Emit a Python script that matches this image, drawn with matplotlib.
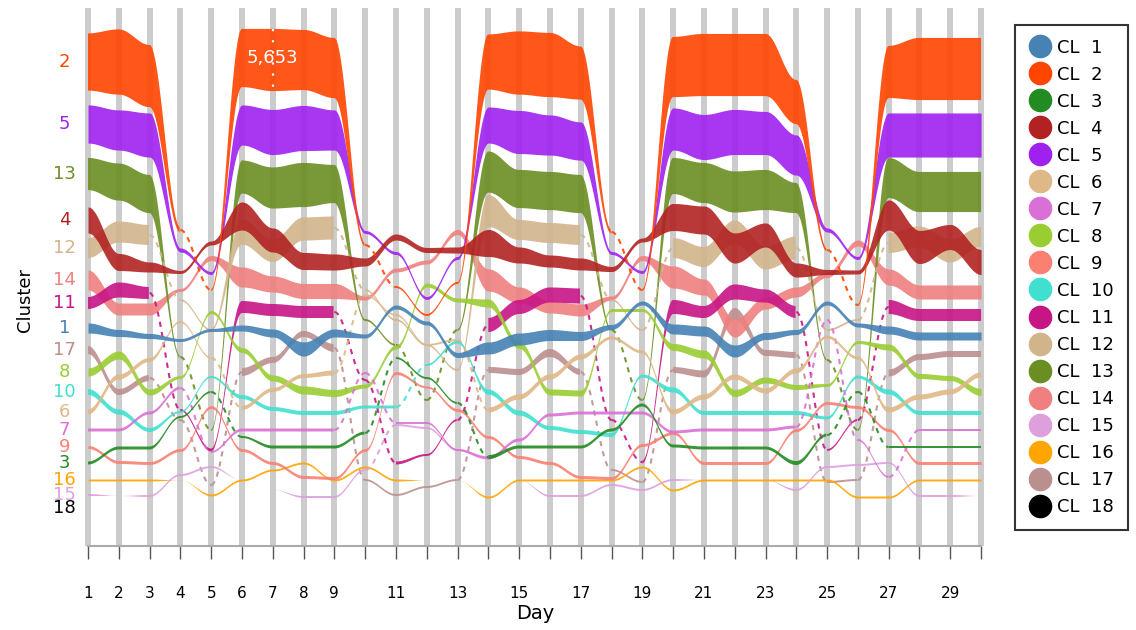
import numpy as np
import matplotlib.pyplot as plt
from matplotlib.lines import Line2D

DAYS = list(range(1, 31))
TICK_LABELS = ["1", "2", "3", "4", "5", "6", "7", "8", "9", "", "11", "", "13", "", "15",
               "", "17", "", "19", "", "21", "", "23", "", "25", "", "27", "", "29", ""]

COLORS = {
    1: "#4682B4", 2: "#FF4500", 3: "#228B22", 4: "#B22222", 5: "#A020F0",
    6: "#DEB887", 7: "#DA70D6", 8: "#9ACD32", 9: "#FA8072", 10: "#40E0D0",
    11: "#C71585", 12: "#D2B48C", 13: "#6B8E23", 14: "#F08080", 15: "#DDA0DD",
    16: "#FFA500", 17: "#BC8F8F", 18: "#000000",
}

# row position of each cluster per day (layout units, top = small)
POS = {
    2: [62, 62, 76, 230, 290, 58, 60, 60, 68, 245, 287, 315, 283, 62, 63, 65, 73, 232, 290, 67,
        65, 65, 65, 102, 250, 305, 72, 69, 69, 69],
    5: [124, 130, 135, 250, 273, 125, 132, 128, 130, 232, 253, 298, 258, 125, 132, 135, 141, 253, 272, 129,
        137, 132, 133, 155, 230, 258, 135, 135, 135, 135],
    13: [174, 182, 194, 357, 430, 177, 188, 185, 184, 320, 345, 400, 330, 172, 189, 191, 194, 330, 400, 176,
         183, 192, 190, 198, 360, 430, 178, 192, 192, 192],
    4: [220, 262, 267, 272, 243, 216, 240, 261, 262, 262, 237, 250, 250, 243, 255, 261, 264, 269, 240, 217,
        220, 248, 235, 270, 272, 272, 215, 247, 237, 262],
    12: [248, 232, 235, 300, 330, 232, 251, 229, 228, 290, 320, 345, 370, 211, 230, 233, 235, 300, 330, 248,
         257, 232, 258, 248, 330, 320, 243, 237, 251, 237],
    14: [280, 309, 309, 290, 258, 277, 284, 291, 291, 298, 270, 262, 232, 280, 295, 307, 310, 298, 258, 277,
         287, 328, 303, 292, 275, 243, 277, 292, 292, 292],
    11: [303, 290, 293, 410, 450, 307, 310, 312, 312, 380, 463, 455, 420, 325, 307, 295, 296, 420, 462, 307,
         312, 292, 296, 312, 450, 420, 307, 315, 315, 315],
    1: [328, 333, 336, 340, 330, 328, 333, 349, 333, 336, 307, 323, 355, 348, 339, 335, 336, 327, 303, 329,
        331, 351, 336, 332, 303, 325, 330, 336, 336, 336],
    17: [350, 392, 378, 420, 485, 372, 360, 334, 348, 480, 495, 487, 480, 370, 372, 353, 372, 470, 482, 370,
         374, 314, 353, 355, 482, 480, 373, 357, 354, 354],
    8: [372, 355, 392, 377, 312, 350, 378, 390, 393, 386, 347, 285, 300, 303, 345, 392, 393, 310, 310, 347,
        354, 393, 380, 387, 385, 342, 347, 376, 378, 392],
    10: [392, 412, 430, 412, 377, 397, 409, 413, 413, 407, 407, 365, 342, 392, 413, 428, 432, 435, 376, 390,
         413, 413, 413, 413, 418, 377, 392, 413, 413, 413],
    6: [412, 377, 360, 322, 358, 408, 390, 376, 373, 295, 315, 345, 340, 410, 397, 377, 357, 338, 352, 412,
        397, 377, 391, 371, 337, 358, 410, 397, 392, 375],
    7: [430, 430, 413, 388, 452, 430, 430, 430, 430, 373, 423, 423, 450, 458, 440, 415, 413, 413, 413, 432,
        430, 430, 430, 427, 320, 440, 477, 430, 430, 430],
    9: [447, 462, 463, 450, 407, 450, 463, 477, 478, 450, 373, 387, 410, 437, 457, 463, 477, 478, 445, 433,
        463, 463, 463, 430, 403, 407, 430, 463, 463, 463],
    3: [463, 448, 448, 417, 392, 437, 447, 447, 447, 433, 358, 378, 403, 457, 447, 447, 447, 430, 405, 446,
        448, 448, 448, 463, 435, 392, 447, 447, 447, 447],
    16: [480, 480, 480, 480, 495, 480, 470, 463, 480, 467, 480, 480, 480, 497, 480, 480, 480, 480, 467, 490,
         480, 480, 480, 480, 480, 497, 497, 480, 480, 480],
    15: [495, 496, 496, 475, 467, 480, 490, 497, 497, 470, 425, 428, 450, 460, 480, 496, 496, 485, 490, 480,
         480, 480, 480, 490, 467, 465, 463, 496, 496, 496],
    18: [508, 508, 508, 508, 508, 508, 508, 508, 508, 508, 508, 508, 508, 508, 508, 508, 508, 508, 508, 508,
         508, 508, 508, 508, 508, 508, 508, 508, 508, 508],
}

# members per cluster per day
MEMBERS = {
    2: [5200, 5930, 5650, 460, 180, 5290, 5653, 5470, 5470, 270, 180, 180, 180, 5020, 5750, 5840, 4830, 360, 180, 5470,
        5650, 5650, 5650, 4010, 270, 180, 4740, 5650, 5650, 5650],
    5: [3470, 3650, 4010, 360, 270, 3650, 4100, 4100, 3650, 270, 270, 270, 270, 3280, 3920, 3650, 3470, 270, 270, 3830,
        4100, 4100, 3920, 3650, 360, 270, 4010, 4010, 4010, 4010],
    13: [2920, 3370, 3470, 180, 180, 3010, 3740, 4010, 3470, 180, 180, 180, 180, 3740, 3470, 3470, 3470, 180, 180, 3280,
         3650, 3740, 3650, 2740, 180, 180, 3650, 3650, 3650, 3650],
    4: [2370, 1550, 910, 270, 360, 2550, 2190, 1550, 1460, 730, 550, 460, 550, 2460, 1460, 1090, 1090, 460, 360, 2460,
        2550, 2740, 2190, 1280, 460, 360, 2740, 3010, 2280, 2280],
    12: [1820, 1920, 1820, 180, 180, 2280, 2010, 2100, 2100, 180, 180, 180, 180, 2920, 1820, 1820, 1820, 180, 180, 1820,
         1820, 2100, 2100, 2100, 180, 180, 1820, 1920, 2100, 1820],
    14: [1820, 1090, 1090, 270, 460, 1820, 1460, 1370, 1370, 360, 360, 360, 460, 2010, 1460, 1090, 1090, 360, 460, 2010,
         1460, 1640, 1090, 910, 460, 550, 1460, 1280, 1280, 1280],
    11: [1090, 1370, 1090, 180, 270, 1090, 1090, 1090, 1090, 180, 270, 180, 180, 1280, 1280, 1370, 1370, 180, 270, 1280,
         1090, 1370, 1190, 1090, 180, 180, 1280, 1090, 1090, 1090],
    1: [910, 640, 460, 270, 270, 550, 730, 1280, 730, 360, 360, 360, 460, 1090, 1090, 1000, 820, 460, 360, 910,
        910, 1090, 640, 460, 360, 360, 730, 730, 730, 730],
    17: [730, 550, 550, 180, 180, 730, 550, 550, 730, 180, 180, 180, 180, 550, 550, 730, 550, 180, 180, 550,
         640, 1090, 550, 550, 180, 180, 640, 550, 550, 550],
    8: [730, 730, 550, 270, 270, 460, 550, 730, 640, 360, 360, 360, 360, 730, 640, 550, 550, 270, 270, 640,
        730, 640, 550, 460, 270, 270, 550, 460, 460, 640],
    10: [550, 460, 360, 180, 180, 360, 360, 360, 360, 270, 270, 180, 270, 460, 460, 360, 360, 360, 270, 460,
         360, 360, 360, 360, 270, 270, 460, 360, 360, 360],
    6: [460, 460, 360, 180, 180, 360, 360, 360, 460, 180, 180, 180, 180, 460, 460, 460, 460, 270, 270, 460,
        460, 460, 460, 460, 270, 270, 460, 460, 460, 460],
    7: [270, 270, 270, 270, 180, 270, 270, 270, 270, 180, 180, 180, 180, 270, 270, 270, 270, 270, 270, 270,
        270, 270, 270, 270, 180, 180, 180, 270, 270, 270],
    9: [270, 270, 270, 270, 270, 270, 270, 270, 270, 270, 270, 180, 270, 270, 270, 270, 270, 270, 270, 270,
        270, 270, 270, 270, 270, 270, 270, 270, 270, 270],
    3: [270, 270, 270, 180, 180, 180, 270, 270, 270, 270, 180, 180, 180, 360, 270, 270, 270, 270, 270, 270,
        270, 270, 270, 360, 270, 180, 270, 270, 270, 270],
    16: [180, 180, 180, 0, 180, 180, 180, 180, 180, 180, 180, 0, 0, 180, 180, 180, 180, 180, 180, 180,
         180, 180, 180, 180, 180, 180, 180, 180, 180, 180],
    15: [180, 0, 180, 180, 180, 0, 0, 180, 180, 180, 180, 180, 180, 0, 0, 180, 180, 180, 180, 180,
         0, 0, 0, 180, 180, 180, 180, 180, 180, 0],
    18: [0, 0, 0, 0, 0, 0, 0, 0, 0, 0, 0, 0, 0, 0, 0, 0, 0, 0, 0, 0,
         0, 0, 0, 0, 0, 0, 0, 0, 0, 0],
}

UNITS_PER_MEMBER = 0.011
HIGHLIGHT_CLUSTER, HIGHLIGHT_DAY = 2, 7
NARROW = ["Liberation Sans Narrow", "DejaVu Sans"]
STEPS = 40


def ease(days, values, steps=STEPS):
    # cosine easing between consecutive days
    xs, ys = [], []
    for i in range(len(days) - 1):
        t = np.linspace(0, 1, steps, endpoint=False)
        e = (1 - np.cos(np.pi * t)) / 2
        xs.append(days[i] + t * (days[i + 1] - days[i]))
        ys.append(values[i] + e * (values[i + 1] - values[i]))
    xs.append([days[-1]])
    ys.append([values[-1]])
    return np.concatenate(xs), np.concatenate(ys)


def draw_cluster(ax, k):
    pos = np.array(POS[k], float)
    mem = np.array(MEMBERS[k], float)
    x, c = ease(DAYS, pos)
    _, m = ease(DAYS, mem)
    half = m * UNITS_PER_MEMBER / 2

    # small clusters that jump far between days are drawn as dashed threads
    lo = np.minimum(mem[:-1], mem[1:]) * UNITS_PER_MEMBER
    hi = np.maximum(mem[:-1], mem[1:]) * UNITS_PER_MEMBER
    jump = np.abs(np.diff(pos)) > 40
    dashed = (lo <= 2.5) & (hi > 0) & (hi <= 25) & jump

    seg = np.minimum(np.arange(len(x)) // STEPS, len(DAYS) - 2)
    solid = ~dashed[seg]
    ax.fill_between(x, c - half, c + half, where=solid, color=COLORS[k],
                    alpha=0.9, lw=0, zorder=2)
    for i in np.flatnonzero(dashed):
        sl = slice(i * STEPS, (i + 1) * STEPS + 1)
        ax.plot(x[sl], c[sl], color=COLORS[k], lw=1.5, ls=(0, (2.5, 2.5)),
                alpha=0.9, zorder=2)


fig = plt.figure(figsize=(11.36, 6.3), dpi=100)
ax = fig.add_axes([80 / 1136, 84 / 630, 910 / 1136, 538 / 630])
ax.set_xlim(0.74, 30.29)
ax.set_ylim(546, 8)

for d in DAYS:
    ax.axvline(d, color="#cccccc", lw=4.3, zorder=0)

for k in sorted(POS, reverse=True):
    draw_cluster(ax, k)
    ax.annotate(str(k), xy=(1, POS[k][0]), xytext=(-17, 0), textcoords="offset points",
                ha="center", va="center", fontsize=13, color=COLORS[k],
                annotation_clip=False)

# highlighted member count
hc = POS[HIGHLIGHT_CLUSTER][HIGHLIGHT_DAY - 1]
hm = MEMBERS[HIGHLIGHT_CLUSTER][HIGHLIGHT_DAY - 1]
ax.plot([HIGHLIGHT_DAY, HIGHLIGHT_DAY], [hc - hm * UNITS_PER_MEMBER / 2, hc + hm * UNITS_PER_MEMBER / 2],
        color="white", lw=1.6, ls=(0, (1, 4)), zorder=3)
ax.text(HIGHLIGHT_DAY, hc - 2, f"{hm:,}", color="white", fontsize=13, ha="center", va="center", zorder=4)

for side in ["top", "right", "left"]:
    ax.spines[side].set_visible(False)
ax.spines["bottom"].set_color("#aaaaaa")
ax.spines["bottom"].set_linewidth(1.5)
ax.spines["bottom"].set_bounds(1, 30)
ax.set_yticks([])
ax.set_xticks(DAYS)
ax.set_xticklabels(TICK_LABELS, family=NARROW, fontsize=11)
ax.tick_params(axis="x", length=9, width=1, color="#555555", pad=20)
ax.set_xlabel("Day", family=NARROW, fontsize=14, labelpad=2)
fig.text(25 / 1136, 1 - 300 / 630, "Cluster", rotation=90, ha="center", va="center", fontsize=13)

handles = [Line2D([], [], ls="", marker="o", markersize=16, markerfacecolor=COLORS[k],
                  markeredgecolor=COLORS[k]) for k in range(1, 19)]
labels = [f"CL  {k}" for k in range(1, 19)]
leg = fig.legend(handles, labels, loc="upper left", bbox_to_anchor=(1015 / 1136, 1 - 25 / 630),
                 borderaxespad=0, frameon=True, fancybox=False, edgecolor="black", fontsize=13,
                 labelspacing=0.5, handletextpad=0.3, borderpad=0.75, handlelength=1.3)
leg.get_frame().set_linewidth(1.5)

fig.savefig("out.png", dpi=100)
